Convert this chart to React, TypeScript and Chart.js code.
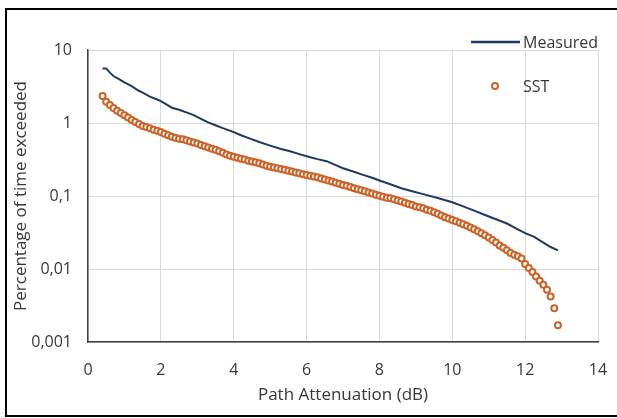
import React, { useEffect, useRef } from "react";
import { Chart, registerables } from "chart.js";

Chart.register(...registerables);

const measuredX = [0.4, 0.5, 0.6, 0.7, 0.85, 1.0, 1.2, 1.35, 1.5, 1.7, 1.9, 2.0, 2.15, 2.3, 2.5, 2.7, 2.9, 3.1, 3.3, 3.5, 3.7, 4.0, 4.2, 4.45, 4.7, 5.0, 5.3, 5.55, 5.8, 6.0, 6.1, 6.3, 6.55, 6.8, 7.0, 7.3, 7.55, 7.8, 8.0, 8.3, 8.6, 8.9, 9.2, 9.6, 10.0, 10.3, 10.6, 10.9, 11.2, 11.5, 11.8, 12.0, 12.25, 12.5, 12.7, 12.9];
const measuredY = [5.6, 5.6, 4.9, 4.4, 4.0, 3.6, 3.2, 2.85, 2.6, 2.3, 2.1, 2.0, 1.8, 1.62, 1.52, 1.4, 1.28, 1.14, 1.02, 0.93, 0.85, 0.75, 0.68, 0.61, 0.55, 0.49, 0.44, 0.41, 0.375, 0.35, 0.34, 0.32, 0.3, 0.265, 0.24, 0.215, 0.195, 0.178, 0.163, 0.145, 0.128, 0.116, 0.106, 0.094, 0.082, 0.072, 0.063, 0.055, 0.048, 0.042, 0.035, 0.031, 0.0275, 0.023, 0.02, 0.018];

const sstX = [0.4, 0.5, 0.6, 0.7, 0.8, 0.9, 1.0, 1.1, 1.2, 1.3, 1.4, 1.5, 1.6, 1.7, 1.8, 1.9, 2.0, 2.1, 2.2, 2.3, 2.4, 2.5, 2.6, 2.7, 2.8, 2.9, 3.0, 3.1, 3.2, 3.3, 3.4, 3.5, 3.6, 3.7, 3.8, 3.9, 4.0, 4.1, 4.2, 4.3, 4.4, 4.5, 4.6, 4.7, 4.8, 4.9, 5.0, 5.1, 5.2, 5.3, 5.4, 5.5, 5.6, 5.7, 5.8, 5.9, 6.0, 6.1, 6.2, 6.3, 6.4, 6.5, 6.6, 6.7, 6.8, 6.9, 7.0, 7.1, 7.2, 7.3, 7.4, 7.5, 7.6, 7.7, 7.8, 7.9, 8.0, 8.1, 8.2, 8.3, 8.4, 8.5, 8.6, 8.7, 8.8, 8.9, 9.0, 9.1, 9.2, 9.3, 9.4, 9.5, 9.6, 9.7, 9.8, 9.9, 10.0, 10.1, 10.2, 10.3, 10.4, 10.5, 10.6, 10.7, 10.8, 10.9, 11.0, 11.1, 11.2, 11.3, 11.4, 11.5, 11.6, 11.7, 11.8, 11.9, 12.0, 12.1, 12.2, 12.3, 12.4, 12.5, 12.6, 12.7, 12.8, 12.9];
const sstY = [2.34, 1.96, 1.76, 1.6, 1.47, 1.37, 1.28, 1.19, 1.1, 1.03, 0.97, 0.91, 0.88, 0.85, 0.81, 0.785, 0.75, 0.71, 0.68, 0.65, 0.63, 0.61, 0.6, 0.58, 0.56, 0.54, 0.525, 0.5, 0.48, 0.46, 0.445, 0.43, 0.41, 0.39, 0.37, 0.355, 0.345, 0.335, 0.325, 0.315, 0.305, 0.298, 0.29, 0.28, 0.27, 0.26, 0.252, 0.245, 0.24, 0.235, 0.228, 0.222, 0.217, 0.21, 0.205, 0.199, 0.194, 0.19, 0.185, 0.18, 0.174, 0.168, 0.163, 0.158, 0.152, 0.147, 0.142, 0.138, 0.133, 0.128, 0.124, 0.12, 0.116, 0.112, 0.108, 0.104, 0.101, 0.098, 0.095, 0.093, 0.09, 0.087, 0.084, 0.081, 0.078, 0.075, 0.072, 0.07, 0.068, 0.065, 0.063, 0.06, 0.057, 0.054, 0.051, 0.049, 0.047, 0.045, 0.043, 0.041, 0.039, 0.037, 0.035, 0.033, 0.031, 0.029, 0.027, 0.025, 0.023, 0.021, 0.0195, 0.018, 0.0166, 0.0157, 0.0149, 0.0139, 0.0117, 0.0103, 0.0091, 0.0079, 0.0069, 0.0061, 0.0052, 0.0042, 0.0029, 0.0017];

const yTickValues = [0.001, 0.01, 0.1, 1, 10];
const yTickLabels = ["0,001", "0,01", "0,1", "1", "10"];
const seriesNames = ["Measured", "SST"];
const xTitle = "Path Attenuation (dB)";
const yTitle = "Percentage of time exceeded";

const FONT = "'Open Sans', 'Noto Sans', sans-serif";
const TEXT = "#383838";
const LINE_COLOR = "#1F3864";
const SST_COLOR = "#CC6328";

export default function App() {
  const ref = useRef<HTMLCanvasElement | null>(null);

  useEffect(() => {
    document.body.style.margin = "0";
    const canvas = ref.current;
    if (!canvas) return;

    const frameAndLegend = {
      id: "frameAndLegend",
      afterDraw(chart: any) {
        const ctx = chart.ctx;
        ctx.save();
        // outer frame
        ctx.strokeStyle = "#000";
        ctx.lineWidth = 2;
        ctx.strokeRect(6, 9, 620, 407);
        // legend
        ctx.font = `16px ${FONT}`;
        ctx.fillStyle = TEXT;
        ctx.textBaseline = "middle";
        ctx.textAlign = "left";
        ctx.strokeStyle = LINE_COLOR;
        ctx.lineWidth = 2.5;
        ctx.beginPath();
        ctx.moveTo(471, 42);
        ctx.lineTo(520, 42);
        ctx.stroke();
        ctx.fillText(seriesNames[0], 523, 43);
        ctx.beginPath();
        ctx.arc(495, 86, 3, 0, Math.PI * 2);
        ctx.fillStyle = "#fff";
        ctx.fill();
        ctx.strokeStyle = SST_COLOR;
        ctx.lineWidth = 2;
        ctx.stroke();
        ctx.fillStyle = TEXT;
        ctx.fillText(seriesNames[1], 523, 87);
        ctx.restore();
      },
    };

    const chart = new Chart(canvas, {
      type: "scatter",
      data: {
        datasets: [
          {
            label: seriesNames[0],
            data: measuredX.map((x, i) => ({ x, y: measuredY[i] })),
            showLine: true,
            borderColor: LINE_COLOR,
            backgroundColor: LINE_COLOR,
            borderWidth: 2,
            pointRadius: 0,
            tension: 0,
          },
          {
            label: seriesNames[1],
            data: sstX.map((x, i) => ({ x, y: sstY[i] })),
            showLine: false,
            borderColor: SST_COLOR,
            backgroundColor: "#ffffff",
            borderWidth: 2,
            pointRadius: 3,
            pointBorderWidth: 2,
          },
        ],
      },
      options: {
        responsive: false,
        animation: false,
        maintainAspectRatio: false,
        layout: { padding: { left: 5, top: 50, right: 19, bottom: 8 } },
        plugins: {
          legend: { display: false },
          tooltip: { enabled: false },
        },
        scales: {
          x: {
            type: "linear",
            min: 0,
            max: 14,
            ticks: {
              stepSize: 2,
              padding: 19,
              color: TEXT,
              font: { family: FONT, size: 16 },
            },
            grid: { color: "#d9d9d9", drawTicks: false, lineWidth: 1 },
            border: { color: "#404040", width: 1.5 },
            title: {
              display: true,
              text: xTitle,
              color: TEXT,
              font: { family: FONT, size: 17 },
              padding: { top: 4, bottom: 5 },
            },
            afterFit(scale: any) {
              scale.height = 418 - 342 - 8;
              scale.paddingLeft = 0;
              scale.paddingRight = 0;
            },
          },
          y: {
            type: "logarithmic",
            min: 0.001,
            max: 10,
            afterBuildTicks(scale: any) {
              scale.ticks = yTickValues.map((v) => ({ value: v }));
            },
            ticks: {
              padding: 16,
              color: TEXT,
              font: { family: FONT, size: 16 },
              callback: (v: any) => {
                const idx = yTickValues.findIndex((t) => Math.abs(t - Number(v)) < t * 1e-6);
                return idx >= 0 ? yTickLabels[idx] : "";
              },
            },
            grid: { color: "#d9d9d9", drawTicks: false, lineWidth: 1 },
            border: { color: "#404040", width: 1.5 },
            title: {
              display: true,
              text: yTitle,
              color: TEXT,
              font: { family: FONT, size: 17 },
              padding: { top: 6, bottom: 4 },
            },
            afterFit(scale: any) {
              scale.width = 88 - 5;
              scale.paddingTop = 0;
              scale.paddingBottom = 0;
            },
          },
        },
      },
      plugins: [frameAndLegend],
    });

    return () => chart.destroy();
  }, []);

  return (
    <div style={{ width: 617, height: 418, background: "#fff" }}>
      <canvas ref={ref} width={617} height={418} style={{ display: "block", width: 617, height: 418 }} />
    </div>
  );
}
